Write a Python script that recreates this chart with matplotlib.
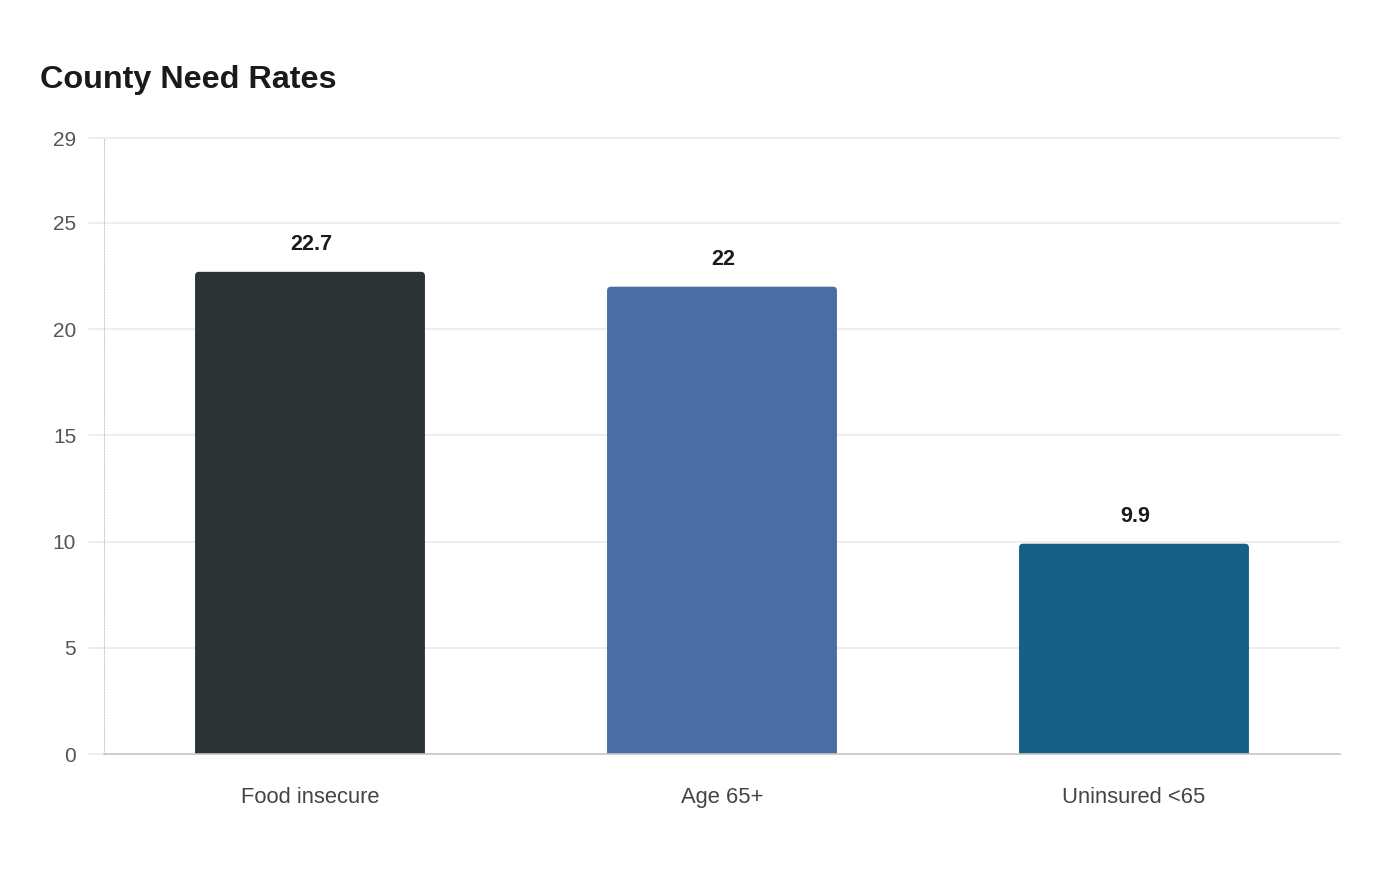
import matplotlib
matplotlib.use("Agg")
import matplotlib.pyplot as plt
from matplotlib.patches import FancyBboxPatch

categories = ["Food insecure", "Age 65+", "Uninsured <65"]
values = [22.7, 22, 9.9]
value_labels = ["22.7", "22", "9.9"]
colors = ["#2d3436", "#4a6ea4", "#166088"]
yticks = [0, 5, 10, 15, 20, 25, 29]

plt.rcParams['font.family'] = ['Liberation Sans', 'DejaVu Sans']

fig = plt.figure(figsize=(14, 8.8), dpi=100)
ax = fig.add_axes([104/1400, 1-754/880, (1340-104)/1400, (754-138)/880])

x = list(range(len(categories)))
bars = ax.bar(x, values, width=0.558, color=colors, zorder=3)

ax.set_xlim(-0.5, len(categories) - 0.5)
ax.set_ylim(0, 29)

# rounded corners
ax_w_px = 1340 - 104
ax_h_px = 754 - 138
xu_per_px = 3 / ax_w_px
yu_per_px = 29 / ax_h_px
aspect = yu_per_px / xu_per_px
r = 4 * xu_per_px
for b, c in zip(bars, colors):
    bx, by, bw, bh = b.get_x(), b.get_y(), b.get_width(), b.get_height()
    b.set_visible(False)
    ext = 0.3
    p = FancyBboxPatch((bx, by - ext), bw, bh + ext,
                       boxstyle=f"round,pad=0,rounding_size={r}",
                       mutation_aspect=aspect, facecolor=c, edgecolor='none',
                       zorder=3, clip_on=True)
    ax.add_patch(p)

for xi, v, lab in zip(x, values, value_labels):
    ax.annotate(lab, (xi, v), xytext=(1, 22), textcoords='offset pixels',
                ha='center', va='baseline', fontsize=15.5, fontweight='bold',
                color='#1a1a1a')

ax.set_yticks(yticks)
ax.set_yticklabels([str(t) for t in yticks])
ax.set_xticks(x)
ax.set_xticklabels(categories)
ax.tick_params(axis='y', length=0, pad=20, labelsize=15, labelcolor='#555555')
ax.tick_params(axis='x', length=0, pad=23.5, labelsize=15.8, labelcolor='#444444')

for t in yticks:
    ax.axhline(t, xmin=-15/ax_w_px, xmax=1, color='#ebebeb', linewidth=1.2,
               zorder=1, clip_on=False)

for s in ['top', 'right']:
    ax.spines[s].set_visible(False)
ax.spines['left'].set_color('#cccccc')
ax.spines['left'].set_linestyle((0, (1, 1.5)))
ax.spines['left'].set_linewidth(0.8)
ax.spines['bottom'].set_color('#c8c8c8')
ax.spines['bottom'].set_linewidth(1.2)
ax.spines['bottom'].set_zorder(4)

fig.text(40/1400, 1-80/880, "County Need Rates", fontsize=23.3, fontweight='bold',
         color='#1a1a1a', ha='left', va='center')

fig.savefig("out.png", dpi=100, facecolor='white')
